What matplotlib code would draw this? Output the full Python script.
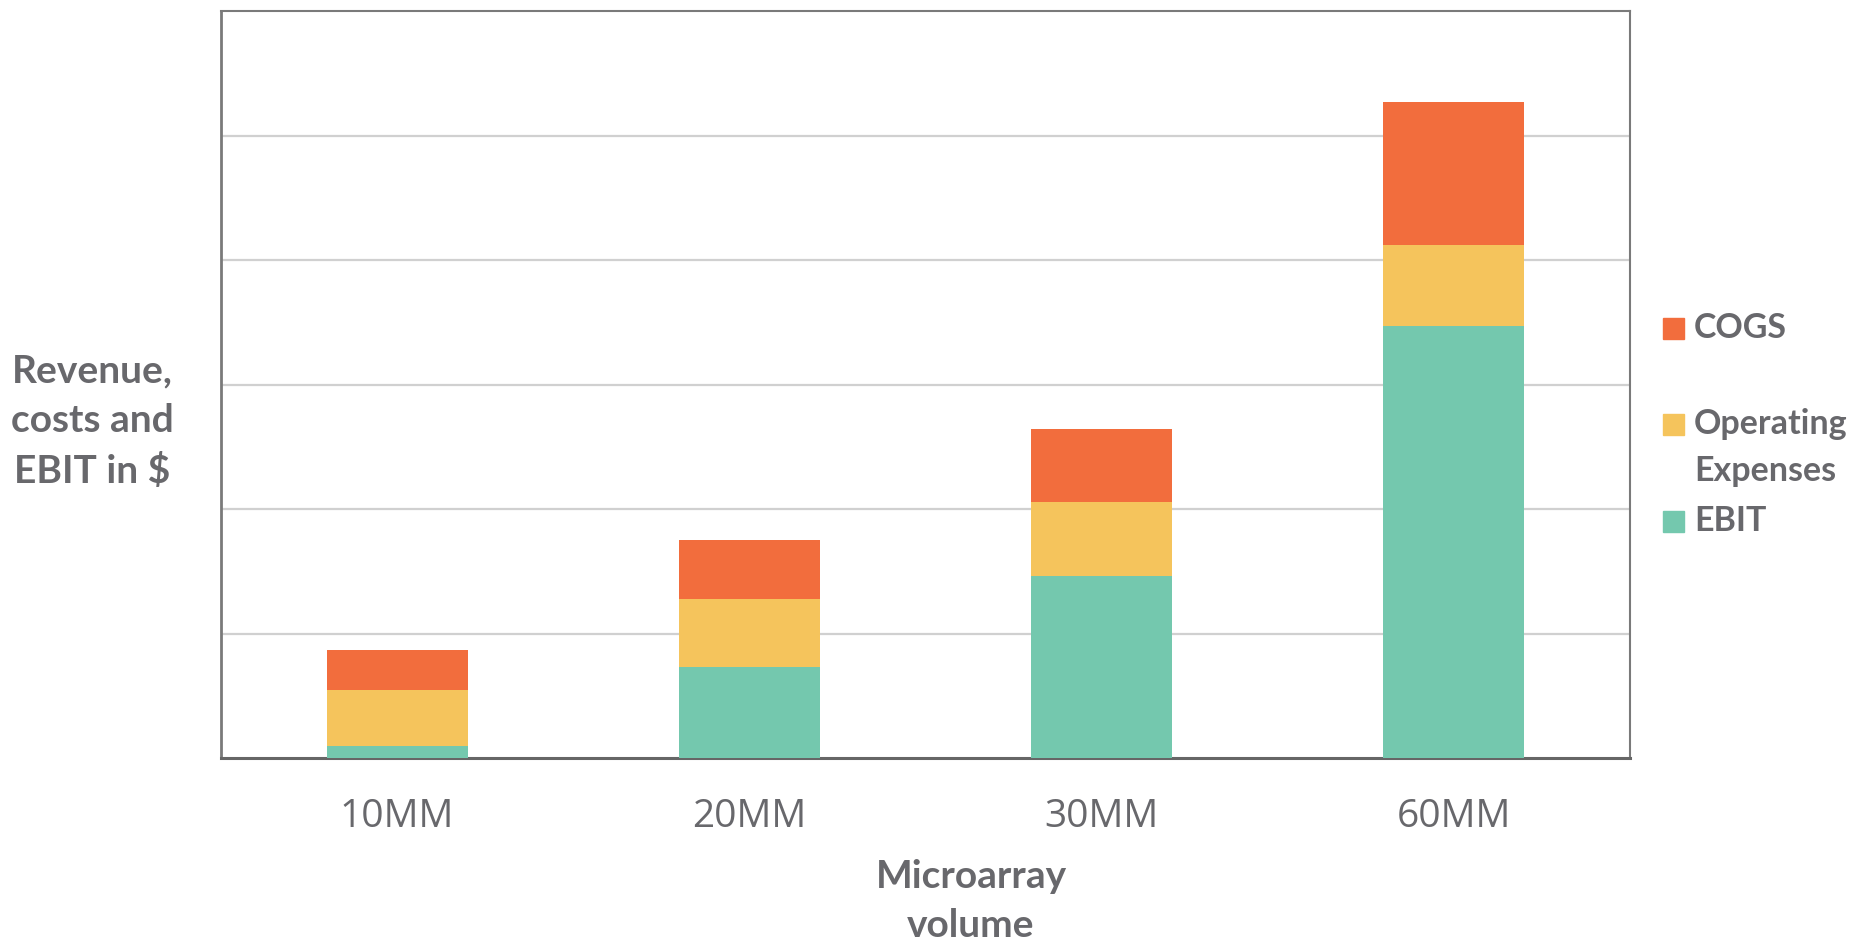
import matplotlib
matplotlib.use('Agg')
import matplotlib.pyplot as plt
from matplotlib.patches import Rectangle

# data (units = gridline steps)
volumes = ['10MM', '20MM', '30MM', '60MM']
series = ['EBIT', 'Operating Expenses', 'COGS']
ebit = [0.10, 0.73, 1.46, 3.47]
opex = [0.45, 0.55, 0.60, 0.65]
cogs = [0.32, 0.47, 0.58, 1.15]
colors = {'EBIT': '#74c8ae', 'Operating Expenses': '#f5c45c', 'COGS': '#f26d3d'}

W, H = 1853, 943
txt = '#68686c'

fig = plt.figure(figsize=(W / 100, H / 100), dpi=100)
ax = fig.add_axes([221 / W, 185 / H, 1409 / W, 747 / H])

x = range(len(volumes))
bottom = [0] * len(volumes)
for name, vals in zip(series, [ebit, opex, cogs]):
    ax.bar(x, vals, width=0.4, bottom=bottom, color=colors[name], zorder=3)
    bottom = [b + v for b, v in zip(bottom, vals)]

ax.set_xlim(-0.5, 3.5)
ax.set_ylim(0, 6)
ax.set_yticks([1, 2, 3, 4, 5])
ax.yaxis.grid(True, color='#d0d0d0', lw=1.6, zorder=0)
ax.tick_params(axis='y', length=0, labelleft=False)
ax.set_xticks(list(x))
ax.set_xticklabels(volumes, fontsize=28, color=txt, family='Open Sans')
ax.tick_params(axis='x', length=0, pad=29)
for s in ax.spines.values():
    s.set_color('#7a7a7a')
    s.set_linewidth(1.5)
ax.spines['bottom'].set_color('#666666')
ax.spines['bottom'].set_linewidth(2.2)
ax.spines['left'].set_linewidth(2.0)

# axis titles
fig.text(92 / W, 1 - 421 / H, 'Revenue,\ncosts and\nEBIT in $', ha='center', va='center',
         fontsize=28, fontweight='bold', color=txt, family='Lato', linespacing=1.5)
fig.text(971 / W, 1 - 901 / H, 'Microarray\nvolume', ha='center', va='center',
         fontsize=28, fontweight='bold', color=txt, family='Lato', linespacing=1.5)

# legend, one text per line so the square sits next to the first line
leg = [('COGS', 328), ('Operating\nExpenses', 424), ('EBIT', 521)]
for label, yc in leg:
    name = label.replace('\n', ' ')
    fig.add_artist(Rectangle((1663 / W, 1 - (yc + 10.5) / H), 21 / W, 21 / H,
                             transform=fig.transFigure, color=colors[name]))
    for i, line in enumerate(label.split('\n')):
        fig.text(1694 / W, 1 - (yc + 47 * i) / H, line, ha='left', va='center',
                 fontsize=24.5, fontweight='bold', color=txt, family='Lato')

fig.savefig('out.png', dpi=100)
